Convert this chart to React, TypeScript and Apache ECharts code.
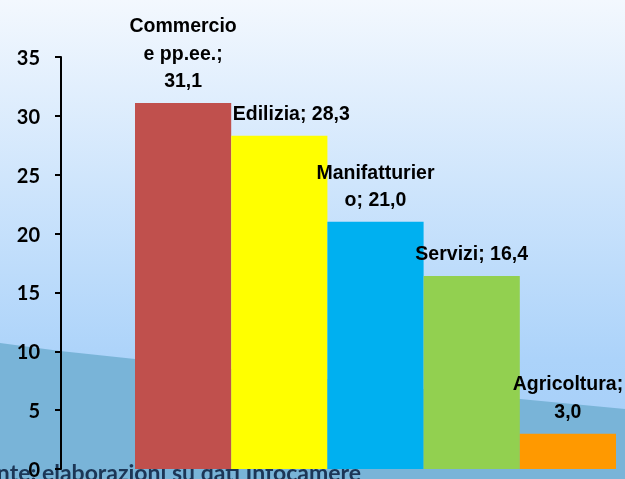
import React, { useEffect, useRef } from "react";
import * as echarts from "echarts";

const categories = ["Commercio e pp.ee.", "Edilizia", "Manifatturiero", "Servizi", "Agricoltura"];
const values = [31.1, 28.3, 21.0, 16.4, 3.0];
const barColors = ["#c0504d", "#ffff00", "#00b0f0", "#92d050", "#ff9900"];
const labelPrefixes = ["Commercio\ne pp.ee.;\n", "Edilizia; ", "Manifatturier\no; ", "Servizi; ", "Agricoltura;\n"];
const labelOffsets = [[0, 0], [12, 0], [0, 0], [0, 0], [0, 0]];
const yTicks = { min: 0, max: 35, interval: 5 };
const sourceText = "Fonte: elaborazioni su dati Infocamere";

export default function App() {
  const ref = useRef<HTMLDivElement>(null);
  useEffect(() => {
    if (!ref.current) return;
    const chart = echarts.init(ref.current, undefined, { renderer: "svg" });
    const labelFont = "'Liberation Sans', Arial, sans-serif";
    chart.setOption({
      animation: false,
      graphic: {
        elements: [
          {
            type: "rect",
            z: -3,
            silent: true,
            shape: { x: 0, y: 0, width: 625, height: 479 },
            style: {
              fill: new echarts.graphic.LinearGradient(0, 0, 0, 1, [
                { offset: 0, color: "#f3f8fe" },
                { offset: 0.75, color: "#acd3fa" },
                { offset: 1, color: "#a4cdf7" },
              ]),
            },
          },
          {
            type: "polygon",
            z: -2,
            silent: true,
            shape: {
              points: [
                [0, 343], [60, 351], [135, 359], [520, 399], [625, 409], [625, 479], [0, 479],
              ],
            },
            style: { fill: "#79b4d8" },
          },
          {
            type: "text",
            z: -1,
            silent: true,
            x: 361,
            y: 483,
            style: {
              text: sourceText,
              fill: "#1c3656",
              font: "bold 23px Lato, 'Open Sans', sans-serif",
              textAlign: "right",
              textVerticalAlign: "bottom",
            },
          },
        ],
      },
      grid: { left: 135, right: 9, top: 57, bottom: 6.5, containLabel: false },
      xAxis: {
        type: "category",
        data: categories,
        show: false,
      },
      yAxis: {
        type: "value",
        min: yTicks.min,
        max: yTicks.max,
        interval: yTicks.interval,
        offset: 74,
        z: 5,
        axisLine: { show: true, lineStyle: { color: "#000", width: 2 } },
        axisTick: { show: true, length: 6, lineStyle: { color: "#000", width: 2 } },
        splitLine: { show: false },
        axisLabel: {
          margin: 21,
          color: "#000",
          fontFamily: "Lato, 'Open Sans', sans-serif",
          fontWeight: "bold",
          fontSize: 20,
        },
      },
      series: [
        {
          type: "bar",
          barCategoryGap: "0%",
          barWidth: "100%",
          data: values.map((v, i) => ({
            value: v,
            itemStyle: { color: barColors[i] },
            label: { offset: labelOffsets[i] },
          })),
          label: {
            show: true,
            position: "top",
            distance: 9,
            color: "#000",
            fontFamily: labelFont,
            fontWeight: "bold",
            fontSize: 19.5,
            lineHeight: 27.5,
            align: "center",
            formatter: (p: any) => labelPrefixes[p.dataIndex] + Number(p.value).toFixed(1).replace(".", ","),
          },
        },
      ],
    });
    return () => chart.dispose();
  }, []);
  return <div ref={ref} style={{ position: "fixed", left: 0, top: 0, width: 625, height: 479 }} />;
}
